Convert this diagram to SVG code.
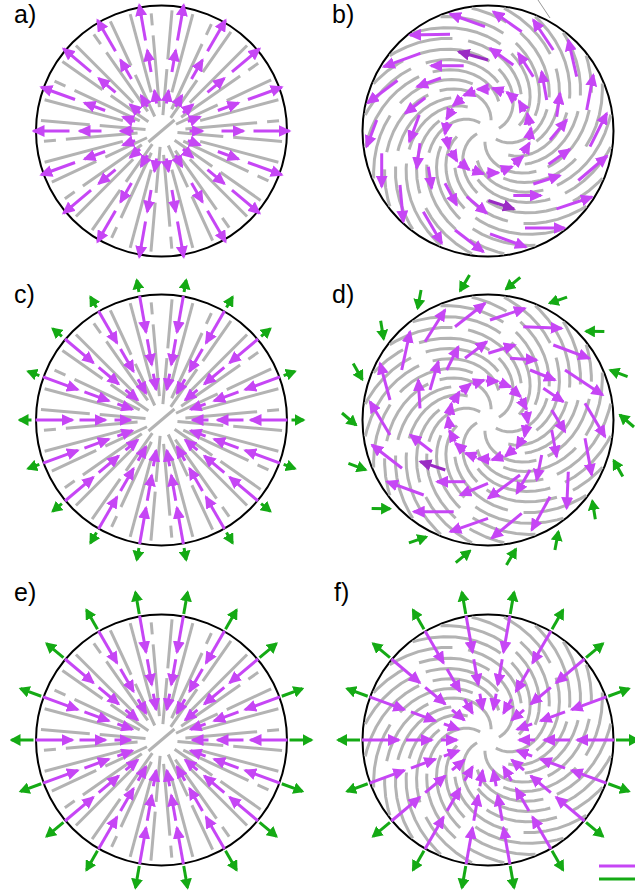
<svg xmlns="http://www.w3.org/2000/svg" width="635" height="894" viewBox="0 0 635 894">
<style>
.g{stroke:#b3b3b3;stroke-width:3;fill:none;stroke-linejoin:round}
.p{stroke:#c646f5;stroke-width:3;fill:none;marker-end:url(#mp)}
.pd{stroke:#9a2cc4;stroke-width:3;fill:none;marker-end:url(#mpd)}
.gr{stroke:#14aa14;stroke-width:3;fill:none;marker-end:url(#mg)}
.c{fill:none;stroke:#000;stroke-width:2}
.lbl{font-family:"Liberation Sans",Arial,sans-serif;font-size:25px;fill:#000}
</style>
<defs>
<marker id="mp" viewBox="0 0 13 12" refX="11" refY="6" markerWidth="13" markerHeight="12" orient="auto" markerUnits="userSpaceOnUse"><path d="M0,0L13,6L0,12z" fill="#c646f5"/></marker>
<marker id="mpd" viewBox="0 0 13 12" refX="11" refY="6" markerWidth="13" markerHeight="12" orient="auto" markerUnits="userSpaceOnUse"><path d="M0,0L13,6L0,12z" fill="#9a2cc4"/></marker>
<marker id="mg" viewBox="0 0 11 12" refX="9" refY="6" markerWidth="11" markerHeight="12" orient="auto" markerUnits="userSpaceOnUse"><path d="M0,0L11,6L0,12z" fill="#14aa14"/></marker>
<path id="k0" d="M16,0H62M72,0H121"/>
<path id="k1" d="M40,0H121"/>
<path id="k2" d="M24,0H96M106,0H118"/>
<path id="sP" d="M10.9,-2.78L12.9,-3.99L16.58,-7.01L19.75,-10.79L22.28,-15.25L24.09,-20.29L25.08,-25.82L25.18,-31.72L24.31,-37.87L22.49,-44.12L19.57,-50.33L15.63,-56.38L10.71,-62.08M1.45,-69.74L-2.1,-71.97L-9.86,-75.86L-18.4,-78.88L-27.64,-80.91L-37.45,-81.84L-47.7,-81.57L-58.26,-80.04L-68.96,-77.18M-84.91,-70.32L-90.12,-67.33L-100.26,-60.31L-109.85,-51.93L-114.38,-47.24"/>
<path id="sQ" d="M24.09,-20.29L25.08,-25.82L25.18,-31.72L24.31,-37.87L22.49,-44.12L19.57,-50.33L15.63,-56.38L10.71,-62.08L4.77,-67.33L-2.1,-71.97L-9.86,-75.86L-18.4,-78.88M-32.48,-81.52L-37.45,-81.84L-47.7,-81.57L-58.26,-80.04L-68.96,-77.18L-79.64,-72.95L-90.12,-67.33L-100.26,-60.31L-109.85,-51.93L-114.38,-47.24"/>
<path id="sR" d="M22.49,-44.12L19.57,-50.33L15.63,-56.38L10.71,-62.08L4.77,-67.33L-2.1,-71.97L-9.86,-75.86L-18.4,-78.88L-27.64,-80.91L-37.45,-81.84L-42.54,-81.86M-58.26,-80.04L-68.96,-77.18L-79.64,-72.95L-90.12,-67.33L-100.26,-60.31L-109.85,-51.93L-114.38,-47.24"/>
<g id="RG" class="g">
<line x1="-13" y1="11" x2="13" y2="-11"/>
<use href="#k0" transform="rotate(5)"/><use href="#k1" transform="rotate(15)"/><use href="#k2" transform="rotate(25)"/>
<use href="#k0" transform="rotate(35)"/><use href="#k1" transform="rotate(45)"/><use href="#k2" transform="rotate(55)"/>
<use href="#k0" transform="rotate(65)"/><use href="#k1" transform="rotate(75)"/><use href="#k2" transform="rotate(85)"/>
<use href="#k0" transform="rotate(95)"/><use href="#k1" transform="rotate(105)"/><use href="#k2" transform="rotate(115)"/>
<use href="#k0" transform="rotate(125)"/><use href="#k1" transform="rotate(135)"/><use href="#k2" transform="rotate(145)"/>
<use href="#k0" transform="rotate(155)"/><use href="#k1" transform="rotate(165)"/><use href="#k2" transform="rotate(175)"/>
<use href="#k0" transform="rotate(185)"/><use href="#k1" transform="rotate(195)"/><use href="#k2" transform="rotate(205)"/>
<use href="#k0" transform="rotate(215)"/><use href="#k1" transform="rotate(225)"/><use href="#k2" transform="rotate(235)"/>
<use href="#k0" transform="rotate(245)"/><use href="#k1" transform="rotate(255)"/><use href="#k2" transform="rotate(265)"/>
<use href="#k0" transform="rotate(275)"/><use href="#k1" transform="rotate(285)"/><use href="#k2" transform="rotate(295)"/>
<use href="#k0" transform="rotate(305)"/><use href="#k1" transform="rotate(315)"/><use href="#k2" transform="rotate(325)"/>
<use href="#k0" transform="rotate(335)"/><use href="#k1" transform="rotate(345)"/><use href="#k2" transform="rotate(355)"/>
</g>
<g id="SP" class="g">
<use href="#sP"/><use href="#sR" transform="rotate(15)"/><use href="#sQ" transform="rotate(30)"/><use href="#sR" transform="rotate(45)"/>
<use href="#sP" transform="rotate(60)"/><use href="#sR" transform="rotate(75)"/><use href="#sQ" transform="rotate(90)"/><use href="#sR" transform="rotate(105)"/>
<use href="#sP" transform="rotate(120)"/><use href="#sR" transform="rotate(135)"/><use href="#sQ" transform="rotate(150)"/><use href="#sR" transform="rotate(165)"/>
<use href="#sP" transform="rotate(180)"/><use href="#sR" transform="rotate(195)"/><use href="#sQ" transform="rotate(210)"/><use href="#sR" transform="rotate(225)"/>
<use href="#sP" transform="rotate(240)"/><use href="#sR" transform="rotate(255)"/><use href="#sQ" transform="rotate(270)"/><use href="#sR" transform="rotate(285)"/>
<use href="#sP" transform="rotate(300)"/><use href="#sR" transform="rotate(315)"/><use href="#sQ" transform="rotate(330)"/><use href="#sR" transform="rotate(345)"/>
</g>
<g id="ua" class="p"><line x1="28" y1="0" x2="41" y2="0"/><line x1="60" y1="0" x2="82" y2="0"/><line x1="92" y1="0" x2="128" y2="0"/></g>
<g id="uc" class="p"><line x1="47" y1="0" x2="31" y2="0"/><line x1="82" y1="0" x2="56" y2="0"/><line x1="126" y1="0" x2="89" y2="0"/></g>
<line id="gc" class="gr" x1="130" y1="0" x2="142" y2="0"/>
<line id="ge" class="gr" x1="128" y1="0" x2="150" y2="0"/>
<line id="gd" class="gr" x1="146" y1="7" x2="132" y2="-5"/>
<line id="ib" class="p" x1="41" y1="9" x2="43" y2="-3"/>
<line id="idd" class="p" x1="38" y1="-9" x2="40" y2="3"/>
<g id="UC"><use href="#uc"/><use href="#gc"/></g>
<g id="UE"><use href="#uc"/><use href="#ge"/></g>
<g id="UD"><use href="#idd"/><use href="#gd"/></g>
<g id="RA"><use href="#ua"/><use href="#ua" transform="rotate(20)"/><use href="#ua" transform="rotate(40)"/><use href="#ua" transform="rotate(60)"/><use href="#ua" transform="rotate(80)"/><use href="#ua" transform="rotate(100)"/><use href="#ua" transform="rotate(120)"/><use href="#ua" transform="rotate(140)"/><use href="#ua" transform="rotate(160)"/><use href="#ua" transform="rotate(180)"/><use href="#ua" transform="rotate(200)"/><use href="#ua" transform="rotate(220)"/><use href="#ua" transform="rotate(240)"/><use href="#ua" transform="rotate(260)"/><use href="#ua" transform="rotate(280)"/><use href="#ua" transform="rotate(300)"/><use href="#ua" transform="rotate(320)"/><use href="#ua" transform="rotate(340)"/></g>
<g id="RC"><use href="#UC"/><use href="#UC" transform="rotate(20)"/><use href="#UC" transform="rotate(40)"/><use href="#UC" transform="rotate(60)"/><use href="#UC" transform="rotate(80)"/><use href="#UC" transform="rotate(100)"/><use href="#UC" transform="rotate(120)"/><use href="#UC" transform="rotate(140)"/><use href="#UC" transform="rotate(160)"/><use href="#UC" transform="rotate(180)"/><use href="#UC" transform="rotate(200)"/><use href="#UC" transform="rotate(220)"/><use href="#UC" transform="rotate(240)"/><use href="#UC" transform="rotate(260)"/><use href="#UC" transform="rotate(280)"/><use href="#UC" transform="rotate(300)"/><use href="#UC" transform="rotate(320)"/><use href="#UC" transform="rotate(340)"/></g>
<g id="RE"><use href="#UE"/><use href="#UE" transform="rotate(20)"/><use href="#UE" transform="rotate(40)"/><use href="#UE" transform="rotate(60)"/><use href="#UE" transform="rotate(80)"/><use href="#UE" transform="rotate(100)"/><use href="#UE" transform="rotate(120)"/><use href="#UE" transform="rotate(140)"/><use href="#UE" transform="rotate(160)"/><use href="#UE" transform="rotate(180)"/><use href="#UE" transform="rotate(200)"/><use href="#UE" transform="rotate(220)"/><use href="#UE" transform="rotate(240)"/><use href="#UE" transform="rotate(260)"/><use href="#UE" transform="rotate(280)"/><use href="#UE" transform="rotate(300)"/><use href="#UE" transform="rotate(320)"/><use href="#UE" transform="rotate(340)"/></g>
<g id="RB"><use href="#ib"/><use href="#ib" transform="rotate(20)"/><use href="#ib" transform="rotate(40)"/><use href="#ib" transform="rotate(60)"/><use href="#ib" transform="rotate(80)"/><use href="#ib" transform="rotate(100)"/><use href="#ib" transform="rotate(120)"/><use href="#ib" transform="rotate(140)"/><use href="#ib" transform="rotate(160)"/><use href="#ib" transform="rotate(180)"/><use href="#ib" transform="rotate(200)"/><use href="#ib" transform="rotate(220)"/><use href="#ib" transform="rotate(240)"/><use href="#ib" transform="rotate(260)"/><use href="#ib" transform="rotate(280)"/><use href="#ib" transform="rotate(300)"/><use href="#ib" transform="rotate(320)"/><use href="#ib" transform="rotate(340)"/></g>
<g id="RD"><use href="#UD"/><use href="#UD" transform="rotate(20)"/><use href="#UD" transform="rotate(40)"/><use href="#UD" transform="rotate(60)"/><use href="#UD" transform="rotate(80)"/><use href="#UD" transform="rotate(100)"/><use href="#UD" transform="rotate(120)"/><use href="#UD" transform="rotate(140)"/><use href="#UD" transform="rotate(160)"/><use href="#UD" transform="rotate(180)"/><use href="#UD" transform="rotate(200)"/><use href="#UD" transform="rotate(220)"/><use href="#UD" transform="rotate(240)"/><use href="#UD" transform="rotate(260)"/><use href="#UD" transform="rotate(280)"/><use href="#UD" transform="rotate(300)"/><use href="#UD" transform="rotate(320)"/><use href="#UD" transform="rotate(340)"/></g>
</defs>
<rect width="635" height="894" fill="#fff"/>

<g id="panel-a">
<text class="lbl" x="14" y="23">a)</text>
<circle class="c" cx="161.5" cy="131" r="125.5"/>
<use href="#RG" x="161.5" y="131"/>
<use href="#RA" x="161.5" y="131"/>
</g>

<g id="panel-b">
<text class="lbl" x="332" y="23">b)</text>
<line x1="538" y1="0" x2="550" y2="18" stroke="#999" stroke-width="1"/>
<circle class="c" cx="488" cy="131" r="125.5"/>
<use href="#SP" x="488" y="131"/>
<use href="#RB" x="488" y="131"/>
<g class="p">
<line x1="521.7" y1="31.7" x2="493.3" y2="11.7"/>
<line x1="485" y1="26.7" x2="450" y2="14"/>
<line x1="553.3" y1="50" x2="533.3" y2="20"/>
<line x1="576.7" y1="76.7" x2="568.3" y2="40"/>
<line x1="450" y1="34.3" x2="410" y2="35"/>
<line x1="420.3" y1="53.3" x2="383.7" y2="66.7"/>
<line x1="463.7" y1="65.7" x2="431" y2="65.7"/>
<line x1="513.3" y1="65" x2="490" y2="48.3"/>
<line x1="533.3" y1="76.7" x2="518.3" y2="53.3"/>
<line x1="546.7" y1="100" x2="541.7" y2="71.7"/>
<line x1="586.7" y1="110" x2="593.3" y2="75"/>
<line x1="397.5" y1="80.5" x2="367.5" y2="103"/>
<line x1="441" y1="78" x2="417" y2="86.7"/>
<line x1="556.7" y1="116.7" x2="560" y2="93.3"/>
<line x1="590" y1="146.7" x2="606.7" y2="113.3"/>
<line x1="425.3" y1="97.7" x2="405.3" y2="113.3"/>
<line x1="376.7" y1="120" x2="366.7" y2="146.7"/>
<line x1="419.3" y1="115" x2="409.3" y2="141.7"/>
<line x1="550" y1="140" x2="566.7" y2="120"/>
<line x1="420" y1="143.3" x2="416.7" y2="168.3"/>
<line x1="578.3" y1="180.5" x2="607" y2="156"/>
<line x1="548.5" y1="164.3" x2="569.7" y2="149.3"/>
<line x1="381.7" y1="153.3" x2="381.7" y2="186.7"/>
<line x1="428.3" y1="166.7" x2="431.7" y2="188.3"/>
<line x1="533.3" y1="184" x2="560" y2="175.5"/>
<line x1="513.3" y1="195.5" x2="541" y2="195.5"/>
<line x1="445" y1="183.3" x2="456.7" y2="205"/>
<line x1="466.7" y1="196.7" x2="486.7" y2="213.3"/>
<line x1="556.5" y1="208.8" x2="592" y2="197"/>
<line x1="400" y1="185" x2="403.3" y2="221.7"/>
<line x1="423.3" y1="211.7" x2="441.7" y2="243.3"/>
<line x1="455" y1="230" x2="483.3" y2="251.7"/>
<line x1="490" y1="233.8" x2="526" y2="247"/>
<line x1="525" y1="228" x2="564.5" y2="228"/>
</g>
<g class="pd">
<line x1="488" y1="60" x2="458.7" y2="51.7"/>
<line x1="488.3" y1="200.5" x2="514" y2="209"/>
</g>
</g>

<g id="panel-c">
<text class="lbl" x="14" y="303">c)</text>
<circle class="c" cx="161.5" cy="420" r="125.5"/>
<use href="#RG" x="161.5" y="420"/>
<use href="#RC" x="161.5" y="420"/>
</g>

<g id="panel-d">
<text class="lbl" x="332" y="303">d)</text>
<circle class="c" cx="488" cy="420" r="125.5"/>
<use href="#SP" x="488" y="420"/>
<use href="#RD" x="488" y="420"/>
<g class="p">
<line x1="455" y1="326.7" x2="485" y2="303.3"/>
<line x1="490" y1="320" x2="525" y2="308.3"/>
<line x1="523.3" y1="326.7" x2="561.7" y2="328.3"/>
<line x1="425" y1="341.7" x2="445" y2="310"/>
<line x1="401.7" y1="370" x2="410" y2="331.7"/>
<line x1="465" y1="358.3" x2="486.7" y2="341.7"/>
<line x1="488.3" y1="353.3" x2="515" y2="345"/>
<line x1="510" y1="358.3" x2="536.7" y2="360"/>
<line x1="553.3" y1="345" x2="589.3" y2="358.3"/>
<line x1="446.7" y1="370" x2="458.3" y2="346.7"/>
<line x1="430" y1="390" x2="438.3" y2="361.7"/>
<line x1="390" y1="400" x2="380" y2="363.3"/>
<line x1="420" y1="408.3" x2="418.3" y2="380"/>
<line x1="530" y1="370" x2="555" y2="380"/>
<line x1="565" y1="370" x2="602.7" y2="395"/>
<line x1="543.3" y1="388.3" x2="563.3" y2="401.7"/>
<line x1="551.7" y1="410" x2="565" y2="431.7"/>
<line x1="585" y1="403.3" x2="605" y2="436.7"/>
<line x1="390" y1="435" x2="370" y2="401.7"/>
<line x1="432" y1="451.7" x2="410.3" y2="435"/>
<line x1="402" y1="468.3" x2="372" y2="445"/>
<line x1="465.3" y1="481.7" x2="437" y2="481.7"/>
<line x1="551.7" y1="430" x2="556.7" y2="456.7"/>
<line x1="585" y1="438.3" x2="591.7" y2="475"/>
<line x1="541.7" y1="455" x2="536.7" y2="480"/>
<line x1="423.7" y1="495" x2="387" y2="481.7"/>
<line x1="488" y1="483.3" x2="460.3" y2="495"/>
<line x1="520" y1="475" x2="488.3" y2="498.3"/>
<line x1="530" y1="470" x2="516.7" y2="493.3"/>
<line x1="568.3" y1="471.7" x2="566.7" y2="508.3"/>
<line x1="453.7" y1="511.7" x2="413.7" y2="511.7"/>
<line x1="488" y1="518.3" x2="450.3" y2="531.7"/>
<line x1="521.7" y1="513.3" x2="491.7" y2="538.3"/>
<line x1="550" y1="496.7" x2="531.7" y2="530"/>
</g>
<g class="pd">
<line x1="445.3" y1="470" x2="420.3" y2="461.7"/>
</g>
</g>

<g id="panel-e">
<text class="lbl" x="14" y="601">e)</text>
<circle class="c" cx="161.5" cy="740" r="125.5"/>
<use href="#RG" x="161.5" y="740"/>
<use href="#RE" x="161.5" y="740"/>
</g>

<g id="panel-f">
<text class="lbl" x="334" y="601">f)</text>
<circle class="c" cx="488" cy="740" r="125.5"/>
<use href="#SP" x="488" y="740"/>
<use href="#RE" x="488" y="740"/>
</g>

<g id="legend">
<line x1="599" y1="866" x2="636" y2="866" stroke="#c646f5" stroke-width="3"/>
<line x1="599" y1="879" x2="636" y2="879" stroke="#14aa14" stroke-width="3"/>
</g>
</svg>
